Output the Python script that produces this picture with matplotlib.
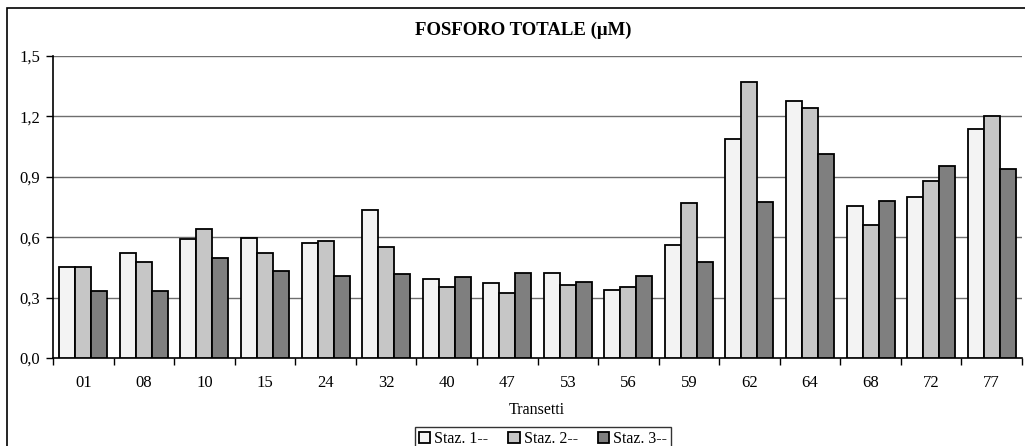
import numpy as np
import matplotlib
matplotlib.use("Agg")
import matplotlib.pyplot as plt
from matplotlib.patches import Rectangle

# Data
transetti = ["01", "08", "10", "15", "24", "32", "40", "47", "53", "56",
             "59", "62", "64", "68", "72", "77"]
staz1 = [0.45, 0.523, 0.59, 0.598, 0.573, 0.734, 0.392, 0.374, 0.424, 0.338,
         0.56, 1.086, 1.278, 0.757, 0.80, 1.138]
staz2 = [0.452, 0.477, 0.639, 0.523, 0.583, 0.55, 0.354, 0.323, 0.363, 0.354,
         0.772, 1.369, 1.242, 0.662, 0.881, 1.202]
staz3 = [0.334, 0.334, 0.497, 0.432, 0.409, 0.417, 0.402, 0.421, 0.379, 0.407,
         0.478, 0.777, 1.013, 0.78, 0.955, 0.94]
series_labels = ["Staz. 1--", "Staz. 2--", "Staz. 3--"]
series_colors = ["#f3f3f3", "#c6c6c6", "#7f7f7f"]
yticks = [0.0, 0.3, 0.6, 0.9, 1.2, 1.5]

plt.rcParams["font.family"] = ["Liberation Serif", "DejaVu Serif"]

W, H = 1025, 446
fig = plt.figure(figsize=(W / 100, H / 100), dpi=100)

# outer chart frame
fig.add_artist(Rectangle((7 / W, -0.05), 1.1, 1 - 8 / H + 0.05,
                         transform=fig.transFigure, fill=False,
                         edgecolor="black", linewidth=1.2))

ax = fig.add_axes([53 / W, 88 / H, 969 / W, 302 / H])
x = np.arange(len(transetti))
bw = 0.264
for i, (vals, col, lab) in enumerate(zip([staz1, staz2, staz3], series_colors, series_labels)):
    ax.bar(x + (i - 1) * bw, vals, width=bw, color=col, edgecolor="black",
           linewidth=1.3, label=lab, zorder=3)

ax.set_xlim(-0.5, len(transetti) - 0.5)
ax.set_ylim(0, 1.5)
ax.set_yticks(yticks)
ax.set_yticklabels([f"{v:.1f}".replace(".", ",") for v in yticks])
for v in yticks[1:]:
    ax.axhline(v, color="#6e6e6e", linewidth=1.0, zorder=1)

ax.set_xticks(x)
ax.set_xticklabels(transetti)
ax.set_xticks(np.arange(-0.5, len(transetti)), minor=True)
ax.tick_params(axis="x", which="major", length=0, pad=12, labelsize=12)
ax.tick_params(axis="x", which="minor", length=5, width=1, direction="out")
ax.tick_params(axis="y", length=5, width=1, direction="out", labelsize=12, pad=4)

for s in ["top", "right"]:
    ax.spines[s].set_visible(False)
ax.spines["left"].set_linewidth(1.2)
ax.spines["bottom"].set_linewidth(1.2)

fig.text(537 / W, 1 - 410 / H, "Transetti", ha="center", va="center", fontsize=11.5)
fig.text(523 / W, 1 - 30 / H, "FOSFORO TOTALE (\u03bcM)", ha="center", va="center",
         fontsize=13.5, fontweight="bold")

leg = fig.legend(loc="upper center", bbox_to_anchor=(543 / W, 1 - 427 / H), ncol=3,
                 fontsize=11.5, frameon=True, fancybox=False, edgecolor="black",
                 handlelength=0.7, handleheight=0.7, handletextpad=0.25,
                 columnspacing=1.25, borderpad=0.25, borderaxespad=0)
leg.get_frame().set_linewidth(1.0)

fig.savefig("out.png", dpi=100)
